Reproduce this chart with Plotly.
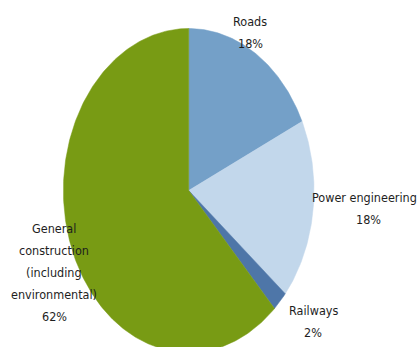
import numpy as np
import plotly.graph_objects as go

# Share of construction output by segment (%), clockwise from 12 o'clock
categories = ["Roads", "Power engineering", "Railways",
              "General construction (including environmental)"]
shares = [18, 18, 2, 62]
colors = ["#74A0C8", "#C2D7EB", "#4E76A8", "#789B14"]

# Label lines drawn next to each slice
label_lines = [
    ["Roads"],
    ["Power engineering"],
    ["Railways"],
    ["General", "construction", "(including", "environmental)"],
]

W, H = 420, 347
cx, cy = 188.7, 190.5      # pie centre (pixels)
rx, ry = 125.3, 162.0      # horizontal / vertical radii of the oval pie

fig = go.Figure()

total = float(sum(shares))
start = 0.0
for name, val, col in zip(categories, shares, colors):
    end = start + val / total * 2 * np.pi
    n = max(4, int(val * 4))
    th = np.linspace(start, end, n)
    xs = np.concatenate([[cx], cx + rx * np.sin(th), [cx]])
    ys = np.concatenate([[cy], cy - ry * np.cos(th), [cy]])
    fig.add_trace(go.Scatter(
        x=xs, y=ys, mode="lines", fill="toself", fillcolor=col,
        line=dict(color=col, width=0.5), name=name, hoverinfo="name",
        showlegend=False,
    ))
    start = end

# label anchors: centre x, first-line y (pixels)
label_pos = [(250, 21.5), (368, 197), (313, 310), (54, 228)]
line_gap = 22
font = dict(family="Liberation Sans Narrow, DejaVu Sans Condensed, sans-serif",
            size=12.5, color="#1e1e1e")
for lines, val, (lx, ly) in zip(label_lines, shares, label_pos):
    for i, t in enumerate(lines + [f"{val}%"]):
        if t == "Power engineering":
            # keep the long line inside the right edge
            fig.add_annotation(x=W - 1, y=ly, text=t, showarrow=False,
                               xanchor="right", yanchor="middle", font=font)
            continue
        fig.add_annotation(x=lx, y=ly + i * line_gap, text=t, showarrow=False,
                           xanchor="center", yanchor="middle", font=font)

fig.update_xaxes(range=[0, W], visible=False, fixedrange=True)
fig.update_yaxes(range=[H, 0], visible=False, fixedrange=True)
fig.update_layout(width=W, height=H, margin=dict(l=0, r=0, t=0, b=0),
                  paper_bgcolor="white", plot_bgcolor="white")

fig.write_html("out.html")
